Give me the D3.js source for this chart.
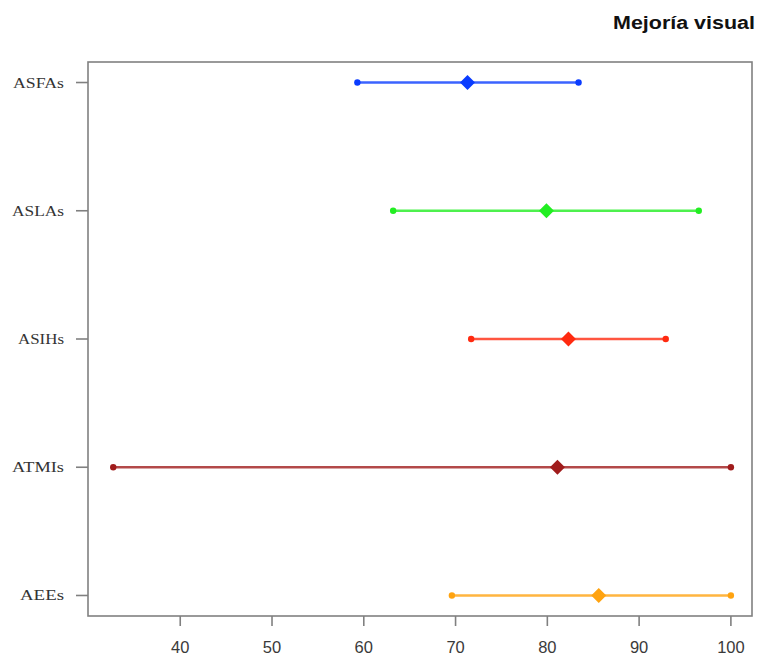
<!DOCTYPE html>
<html>
<head>
<meta charset="utf-8">
<script src="https://cdn.jsdelivr.net/npm/d3@7"></script>
<style>
  body { margin: 0; background: #fff; }
</style>
</head>
<body>
<div id="chart"></div>
<script>
// groups, top to bottom
var groups = ["ASFAs", "ASLAs", "ASIHs", "ATMIs", "AEEs"];
var lows   = [59.3, 63.2, 71.7, 32.7, 69.6];
var mids   = [71.3, 79.9, 82.3, 81.1, 85.6];
var highs  = [83.4, 96.5, 92.9, 100, 100];
var colors = ["#0a3cff", "#22ee22", "#ff2a10", "#a01c1c", "#ffa310"];
var xTicks = [40, 50, 60, 70, 80, 90, 100];
// label widths as they appear (the picture is stretched a bit horizontally)
var labelWidths = [51, 52, 46, 52, 44];

var W = 757, H = 656;
var mLeft = 88, mRight = 752, mTop = 62, mBottom = 616;

var svg = d3.select("#chart").append("svg")
  .attr("width", W).attr("height", H);

// x scale (R style 4% padding)
var x = d3.scaleLinear().domain([29.95, 102.3]).range([mLeft, mRight]);
// y positions 1..5 with padding
var y = d3.scaleLinear().domain([0.84, 5.16]).range([mTop, mBottom]);

// title
svg.append("text")
  .attr("x", 613).attr("y", 29)
  .attr("textLength", 142).attr("lengthAdjust", "spacingAndGlyphs")
  .style("font-family", "Liberation Sans, Arial, sans-serif")
  .style("font-weight", "bold")
  .style("font-size", "18px")
  .style("fill", "#111")
  .text("Mejoría visual");

var rows = groups.map(function (g, i) {
  return { name: g, lo: lows[i], mid: mids[i], hi: highs[i], col: colors[i], pos: i + 1, w: labelWidths[i] };
});

// interval lines
var g = svg.append("g");
g.selectAll("line.bar").data(rows).enter().append("line")
  .attr("x1", function (d) { return x(d.lo); })
  .attr("x2", function (d) { return x(d.hi); })
  .attr("y1", function (d) { return y(d.pos); })
  .attr("y2", function (d) { return y(d.pos); })
  .style("stroke", function (d) { return d.col; })
  .style("stroke-opacity", 0.8)
  .style("stroke-width", 2.6);

g.selectAll("circle.lo").data(rows).enter().append("circle")
  .attr("cx", function (d) { return x(d.lo); })
  .attr("cy", function (d) { return y(d.pos); })
  .attr("r", 3.2)
  .style("fill", function (d) { return d.col; });

g.selectAll("circle.hi").data(rows).enter().append("circle")
  .attr("cx", function (d) { return x(d.hi); })
  .attr("cy", function (d) { return y(d.pos); })
  .attr("r", 3.2)
  .style("fill", function (d) { return d.col; });

// diamonds at the point estimate
g.selectAll("path.mid").data(rows).enter().append("path")
  .attr("d", function (d) {
    var cx = x(d.mid), cy = y(d.pos), s = 7.5;
    return "M" + (cx - s) + "," + cy + "L" + cx + "," + (cy - s) +
      "L" + (cx + s) + "," + cy + "L" + cx + "," + (cy + s) + "Z";
  })
  .style("fill", function (d) { return d.col; });

// box
svg.append("rect")
  .attr("x", mLeft).attr("y", mTop)
  .attr("width", mRight - mLeft).attr("height", mBottom - mTop)
  .style("fill", "none")
  .style("stroke", "#808080")
  .style("stroke-width", 1.6);

// x axis ticks
svg.selectAll("line.xt").data(xTicks).enter().append("line")
  .attr("x1", function (d) { return x(d); })
  .attr("x2", function (d) { return x(d); })
  .attr("y1", mBottom).attr("y2", mBottom + 10)
  .style("stroke", "#808080").style("stroke-width", 1.6);

svg.selectAll("text.xt").data(xTicks).enter().append("text")
  .attr("x", function (d) { return x(d); })
  .attr("y", 653)
  .style("text-anchor", "middle")
  .style("font-family", "Liberation Sans, Arial, sans-serif")
  .style("font-size", "16.5px")
  .style("fill", "#3a3a3a")
  .text(function (d) { return d; });

// y axis ticks and labels
svg.selectAll("line.yt").data(rows).enter().append("line")
  .attr("x1", 76).attr("x2", mLeft)
  .attr("y1", function (d) { return y(d.pos); })
  .attr("y2", function (d) { return y(d.pos); })
  .style("stroke", "#808080").style("stroke-width", 1.6);

svg.selectAll("text.yt").data(rows).enter().append("text")
  .attr("x", function (d) { return 64 - d.w; })
  .attr("y", function (d) { return y(d.pos) + 5; })
  .attr("textLength", function (d) { return d.w; })
  .attr("lengthAdjust", "spacingAndGlyphs")
  .style("font-family", "Liberation Serif, Times New Roman, serif")
  .style("font-size", "15px")
  .style("fill", "#333")
  .text(function (d) { return d.name; });
</script>
</body>
</html>
